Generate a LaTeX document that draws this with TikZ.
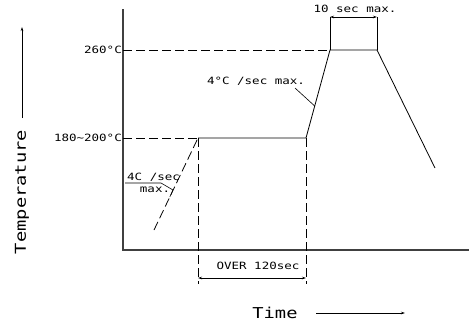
\documentclass[tikz,border=0pt]{standalone}
\usepackage{fontspec}
\setmainfont[FakeStretch=1.25]{DejaVu Sans Mono}
\usetikzlibrary{arrows.meta}

\tikzset{
  axis/.style={line width=1.1pt, draw=black!75},
  profile/.style={line width=0.8pt},
  guide/.style={line width=0.8pt, dash pattern=on 9pt off 4pt},
  leader/.style={line width=0.6pt},
  dimline/.style={line width=0.6pt, {Stealth[length=4pt,width=2.5pt]}-{Stealth[length=4pt,width=2.5pt]}},
  small/.style={font=\fontsize{10}{12}\selectfont, inner sep=1pt},
  big/.style={font=\fontsize{15}{18}\selectfont, inner sep=1pt}
}

\begin{document}
\begin{tikzpicture}[x=1pt, y=-1pt]
\useasboundingbox (0,0) rectangle (469,324);
\coordinate (origin) at (123,250);
\coordinate (ytop) at (123,9);
\coordinate (xend) at (469,250);
\coordinate (t260) at (123,50);
\coordinate (t180) at (123,138);
\coordinate (start) at (154,230);
\coordinate (soakA) at (198,138);
\coordinate (soakB) at (306,138);
\coordinate (peakA) at (330,50);
\coordinate (peakB) at (377,50);
\coordinate (coolend) at (435,168);
\coordinate (soakAlow) at (198,284);
\coordinate (soakBlow) at (306,284);
\coordinate (dimL) at (198,278);
\coordinate (dimR) at (306,278);
\coordinate (tenL) at (330,17);
\coordinate (tenR) at (377,17);
\coordinate (rampPt) at (314.7,106);
\coordinate (leadA) at (295,88);
\coordinate (ulA) at (125,183);
\coordinate (ulB) at (161,183);
\coordinate (ulC) at (173,190);
\coordinate (slopePt) at (169.8,197);
\coordinate (tempA) at (22,118);
\coordinate (tempB) at (22,27);
\coordinate (timeA) at (316,313);
\coordinate (timeB) at (405,313);
\draw[axis] (ytop) -- (origin) -- (xend);
\draw[guide] (t260) -- (peakA);
\draw[guide] (t180) -- (soakA);
\draw[guide] (start) -- (soakA);
\draw[guide] (soakA) -- (soakAlow);
\draw[guide] (soakB) -- (soakBlow);
\draw[profile] (soakA) -- (soakB) -- (peakA) -- (peakB) -- (coolend);
\draw[leader] (peakA) -- (tenL);
\draw[leader] (peakB) -- (tenR);
\draw[dimline] (tenL) -- (tenR);
\draw[dimline] (dimL) -- (dimR);
\draw[leader] (leadA) -- (rampPt);
\draw[leader] (ulA) -- (ulB) -- (ulC) -- (slopePt);
\draw[line width=0.7pt, -{Stealth[length=4pt,width=2.5pt]}] (tempA) -- (tempB);
\draw[line width=0.7pt, -{Stealth[length=4pt,width=2.5pt]}] (timeA) -- (timeB);
\foreach \pos/\anchor/\name/\text in {{(t260)}/east/l260/{260°C}, {(t180)}/east/l180/{180\textasciitilde200°C}, {(355,9)}/center/lten/{10 sec max.}, {(256,81)}/center/lramp/{4°C /sec max.}, {(258,266)}/center/lover/{OVER 120sec}, {(126,177)}/west/lpre/{4C /sec}, {(155,190)}/center/lmax/{max.}}
\node[small, name=\name, anchor=\anchor] at \pos {\text};
\node[big, name=ylabel, rotate=90] at (22,192) {Temperature};
\node[big, name=xlabel] at (275,313) {Time};
\end{tikzpicture}
\end{document}
